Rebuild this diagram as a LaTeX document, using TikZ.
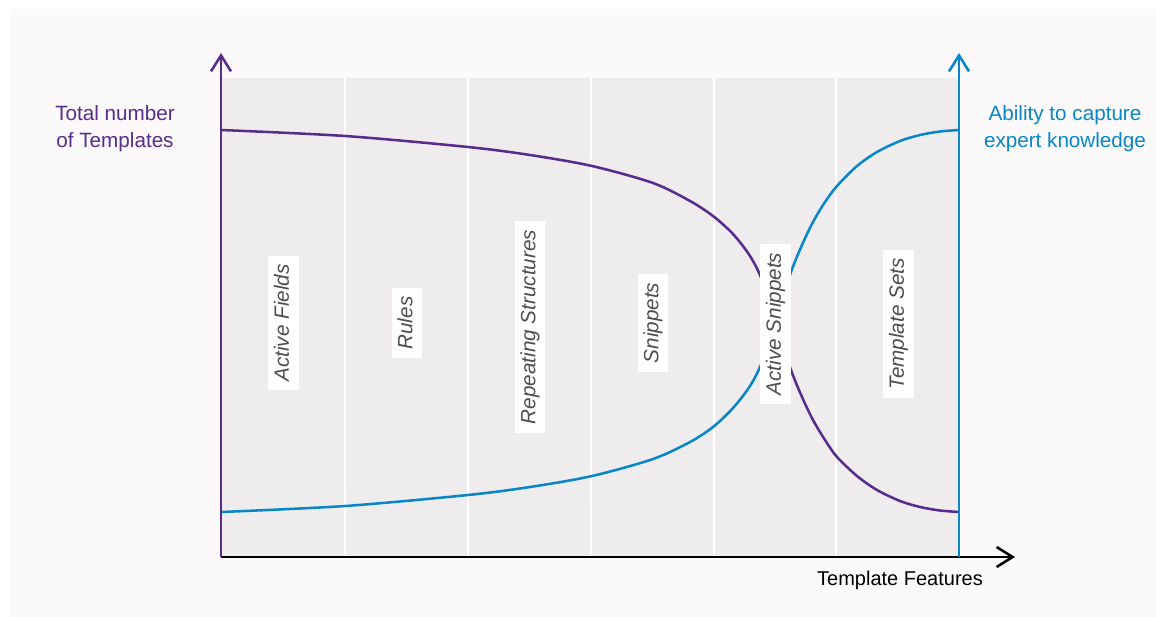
\documentclass[tikz,border=0pt]{standalone}
\usepackage{fontspec}
\setmainfont{Liberation Sans}
\usetikzlibrary{arrows.meta}
\definecolor{pur}{RGB}{88,44,140}
\definecolor{blu}{RGB}{8,134,201}
\definecolor{plotbg}{RGB}{238,236,237}
\definecolor{pagebg}{RGB}{251,249,250}
\definecolor{lbl}{RGB}{77,77,77}
\begin{document}
\begin{tikzpicture}[x=0.75pt,y=-0.75pt,
  curve/.style={line width=1.9pt},
  axisline/.style={line width=1.9pt,-{Straight Barb[length=12pt,width=15pt]}},
  sep/.style={white,line width=1.1pt},
  feat/.style={fill=white,rotate=90,font=\fontsize{15.5}{18}\selectfont\itshape,text=lbl,
    inner xsep=6.5pt,inner ysep=4.5pt,text height=11pt,text depth=3pt},
  axlabel/.style={align=center,font=\fontsize{15.5}{20}\selectfont}]
\useasboundingbox (0,0) rectangle (1156,617);
\fill[white] (0,0) rectangle (1156,617);
\fill[pagebg] (11,9) rectangle (1156,617);
\fill[plotbg] (221,78) rectangle (959,557);
\foreach \x in {345,468,591,714,836} \draw[sep] (\x,78) -- (\x,557);
% curves
\draw[curve,pur] plot[smooth,tension=0.5] coordinates {(221,130) (345,136) (468,147) (530,155) (592,166) (653,183) (690,201) (713,216) (733,234) (750,256) (762,280) (775,322) (791,370) (802,397) (813,420) (825,440) (837,457) (857,476) (877,490) (900,501) (920,507) (940,510.5) (959,512)};
\draw[curve,blu] plot[smooth,tension=0.5] coordinates {(221,512) (345,506) (468,495) (530,487) (592,476) (653,459) (690,442) (713,427) (733,408) (750,386) (762,362) (775,320) (791,272) (802,245) (813,222) (825,202) (837,186) (857,166) (877,152) (900,141) (920,135) (940,131.5) (959,130)};
% feature labels
\node[feat] (f1) at (283.5,323) {Active Fields};
\node[feat] (f2) at (407,323) {Rules};
\node[feat] (f3) at (530,327) {Repeating Structures};
\node[feat] (f4) at (653,323) {Snippets};
\node[feat] (f5) at (775.5,324) {Active Snippets};
\node[feat] (f6) at (898.5,324) {Template Sets};
% axes
\coordinate (o) at (221,557);
\coordinate (ytop) at (221,53);
\coordinate (rb) at (959,557);
\coordinate (rtop) at (959,53);
\coordinate (xend) at (1015,557);
\draw[axisline,black] (o) -- (xend);
\draw[axisline,pur] (o) -- (ytop);
\draw[axisline,blu] (rb) -- (rtop);
% axis labels
\node[axlabel,text=pur] (ly) at (115,128.5) {Total number\\of Templates};
\node[axlabel,text=blu] (ry) at (1065,128.5) {Ability to capture\\expert knowledge};
\node[axlabel,text=black,font=\fontsize{15}{18}\selectfont] (lx) at (900,580) {Template Features};
\end{tikzpicture}
\end{document}
